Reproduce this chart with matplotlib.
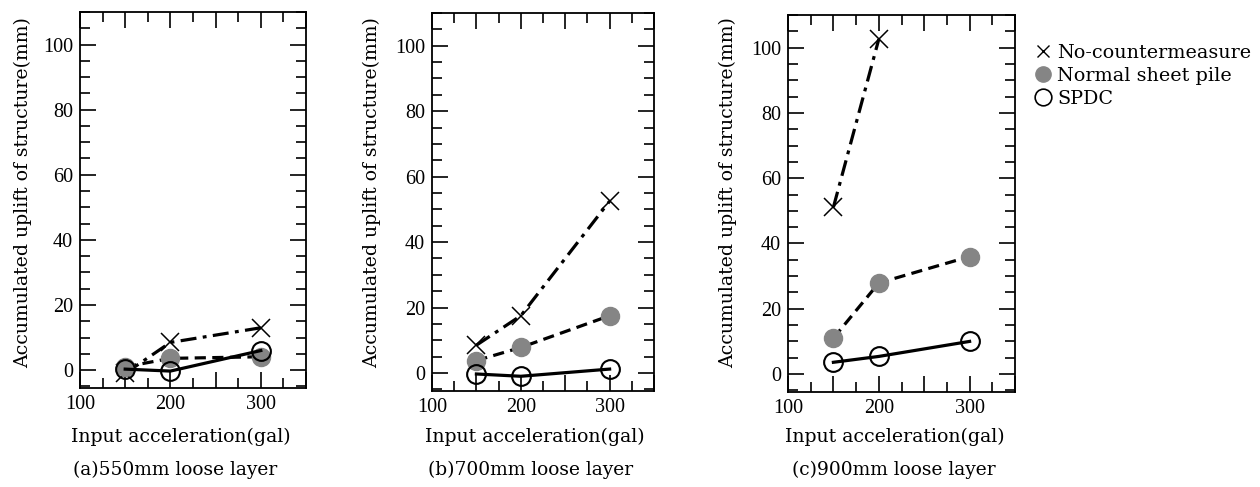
import numpy as np
import matplotlib
matplotlib.use('Agg')
import matplotlib.pyplot as plt
from matplotlib.ticker import MultipleLocator, FuncFormatter
from matplotlib.lines import Line2D

plt.rcParams['font.family'] = ['DejaVu Serif']

accel = [150, 200, 300]

# (a) 550mm loose layer
no_cm_a = [-1, 8.5, 13]
sheet_a = [1, 3.6, 4.1]
spdc_a = [0.3, -0.3, 6]

# (b) 700mm loose layer
no_cm_b = [8.5, 17.5, 52.5]
sheet_b = [3.8, 7.8, 17.5]
spdc_b = [-0.3, -1, 1.2]

# (c) 900mm loose layer (no-countermeasure only up to 200 gal)
accel_c_nocm = [150, 200]
no_cm_c = [51.1, 102.6]
sheet_c = [11, 27.9, 36]
spdc_c = [3.6, 5.4, 10]

titles = ['(a)550mm loose layer', '(b)700mm loose layer', '(c)900mm loose layer']
series = [
    (accel, no_cm_a, sheet_a, spdc_a),
    (accel, no_cm_b, sheet_b, spdc_b),
    (accel_c_nocm, no_cm_c, sheet_c, spdc_c),
]
W, H = 1260, 487
# left, right, top, bottom in pixels
boxes = [(80, 306, 12, 388), (432, 654, 13, 391), (788, 1015, 15, 392)]
xlabel_cx = [181, 535, 895]
title_cx = [175, 531, 894]
ylabel_cx = [23, 372, 728]

gray = '#858585'
fig = plt.figure(figsize=(12.6, 4.87), dpi=100)

for i, ((l, r, t, b), title, (xc, nocm, sheet, spdc)) in enumerate(zip(boxes, titles, series)):
    ax = fig.add_axes([l / W, 1 - b / H, (r - l) / W, (b - t) / H])
    ax.plot(xc, nocm, color='black', lw=2.3, dashes=(5, 2, 1.2, 2),
            marker='x', ms=13, mew=1.1, zorder=3)
    ax.plot(accel, sheet, color='black', lw=2.3, dashes=(3.5, 2),
            marker='o', ms=13, mfc=gray, mec=gray, zorder=3)
    ax.plot(accel, spdc, color='black', lw=2.3, ls='-',
            marker='o', ms=13.5, mfc='none', mec='black', mew=1.5, zorder=3)
    ax.set_xlim(100, 350)
    ax.set_ylim(-5.5, 110)
    ax.xaxis.set_major_locator(MultipleLocator(50))
    ax.xaxis.set_minor_locator(MultipleLocator(25))
    ax.xaxis.set_major_formatter(FuncFormatter(lambda v, p: '%d' % v if v % 100 == 0 else ''))
    ax.yaxis.set_major_locator(MultipleLocator(20))
    ax.yaxis.set_minor_locator(MultipleLocator(5))
    ax.tick_params(which='both', direction='in', top=True, right=True, width=1.2,
                   labelsize=14.5, labelfontfamily='Liberation Serif')
    ax.tick_params(which='major', length=11.5)
    ax.tick_params(which='minor', length=7.5)
    ax.tick_params(axis='x', pad=5)
    ax.tick_params(axis='y', pad=5)
    for s in ax.spines.values():
        s.set_linewidth(1.3)
    ax.set_xlabel('Input acceleration(gal)', fontsize=13.6, va='center')
    ax.xaxis.set_label_coords((xlabel_cx[i] - l) / (r - l), (b - 437) / (b - t))
    ax.set_ylabel('Accumulated uplift of structure(mm)', fontsize=13.6, va='center')
    ax.yaxis.set_label_coords((ylabel_cx[i] - l) / (r - l), (b - 193) / (b - t))
    fig.text(title_cx[i] / W, 1 - 470 / H, title, ha='center', va='center', fontsize=13.4)

handles = [
    Line2D([], [], ls='none', marker='x', ms=9, mew=1.0, color='black'),
    Line2D([], [], ls='none', marker='o', ms=11, mfc=gray, mec=gray),
    Line2D([], [], ls='none', marker='o', ms=12, mfc='none', mec='black', mew=1.2),
]
fig.legend(handles, ['No-countermeasure', 'Normal sheet pile', 'SPDC'],
           loc='upper left', bbox_to_anchor=(1033 / W, 1 - 44 / H),
           frameon=False, fontsize=13.8, handlelength=1.0, handletextpad=0.25,
           labelspacing=0.26, borderpad=0, borderaxespad=0)

fig.savefig('out.png', dpi=100)
